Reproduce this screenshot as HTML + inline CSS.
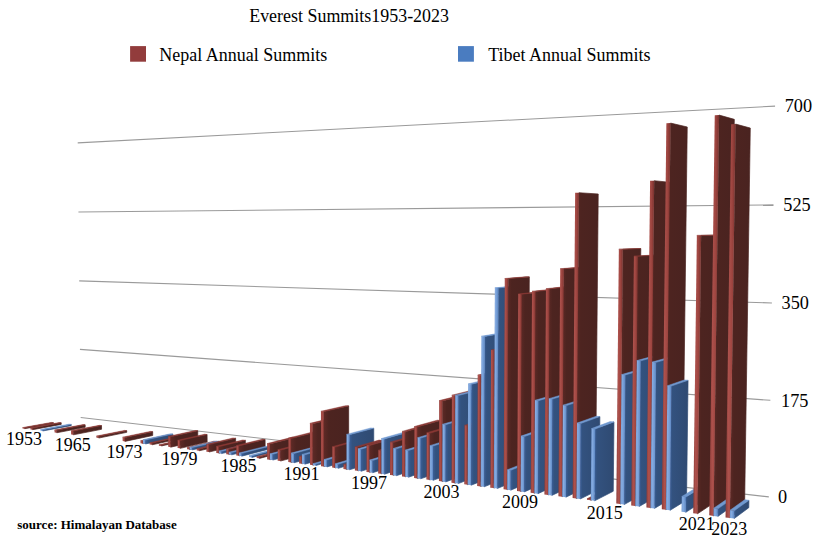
<!DOCTYPE html>
<html><head><meta charset="utf-8"><style>
html,body{margin:0;padding:0;background:#fff;}
body{width:816px;height:543px;overflow:hidden;position:relative;}
svg{position:absolute;left:0;top:0;}
text{font-family:"Liberation Serif",serif;fill:#000;}
</style></head><body>
<svg width="816" height="543" viewBox="0 0 816 543">
<defs>
<linearGradient id="gr" x1="0" x2="1" y1="0" y2="0">
<stop offset="0" stop-color="#8c3c38"/><stop offset="0.3" stop-color="#ad514c"/><stop offset="0.65" stop-color="#9e4540"/><stop offset="1" stop-color="#78312d"/>
</linearGradient>
<linearGradient id="gb" x1="0" x2="1" y1="0" y2="0">
<stop offset="0" stop-color="#6893cc"/><stop offset="0.3" stop-color="#88ade2"/><stop offset="0.7" stop-color="#6f99d2"/><stop offset="1" stop-color="#5880bc"/>
</linearGradient>
<linearGradient id="gsr" x1="0" x2="1" y1="0" y2="0">
<stop offset="0" stop-color="#5e2a26"/><stop offset="0.2" stop-color="#4d2420"/><stop offset="1" stop-color="#4a2320"/>
</linearGradient>
<linearGradient id="gsb" x1="0" x2="1" y1="0" y2="0">
<stop offset="0" stop-color="#3a5f98"/><stop offset="0.12" stop-color="#33527f"/><stop offset="1" stop-color="#2f4a72"/>
</linearGradient>
</defs>
<rect width="816" height="543" fill="#fff"/>
<text x="249.2" y="22.1" font-size="17.95">Everest Summits1953-2023</text>
<rect x="130.1" y="46.1" width="15.9" height="15.6" fill="#923c3c"/>
<text x="159.3" y="60.7" font-size="18">Nepal Annual Summits</text>
<rect x="458" y="46.1" width="15.9" height="15.6" fill="#4a7cc0"/>
<text x="488.2" y="60.7" font-size="18">Tibet Annual Summits</text>
<line x1="80.69" y1="417.51" x2="768.82" y2="496.92" stroke="#9a9a9a" stroke-width="1.1"/>
<line x1="79.96" y1="349.39" x2="770.37" y2="400.32" stroke="#9a9a9a" stroke-width="1.1"/>
<line x1="79.21" y1="280.91" x2="771.92" y2="302.99" stroke="#9a9a9a" stroke-width="1.1"/>
<line x1="78.47" y1="212.07" x2="773.49" y2="204.92" stroke="#9a9a9a" stroke-width="1.1"/>
<line x1="77.72" y1="142.86" x2="775.07" y2="106.10" stroke="#9a9a9a" stroke-width="1.1"/>
<polygon points="24.69,428.69 53.38,423.47 53.37,422.67 24.68,427.86" fill="url(#gsr)" stroke="url(#gsr)" stroke-width="0.7" stroke-linejoin="round"/>
<polygon points="22.60,427.60 24.68,427.86 53.37,422.67 51.31,422.42" fill="#8a3834" stroke="#8a3834" stroke-width="0.5" stroke-linejoin="round"/>
<polygon points="22.61,428.42 24.69,428.69 24.68,427.86 22.60,427.60" fill="url(#gr)"/>
<polygon points="32.59,429.69 61.21,424.42 61.20,422.81 32.57,428.03" fill="url(#gsr)" stroke="url(#gsr)" stroke-width="0.7" stroke-linejoin="round"/>
<polygon points="30.47,427.77 32.57,428.03 61.20,422.81 59.12,422.56" fill="#8a3834" stroke="#8a3834" stroke-width="0.5" stroke-linejoin="round"/>
<polygon points="30.49,429.42 32.59,429.69 32.57,428.03 30.47,427.77" fill="url(#gr)"/>
<polygon points="42.69,430.97 71.23,425.63 71.21,424.42 42.68,429.72" fill="url(#gsb)" stroke="url(#gsb)" stroke-width="0.7" stroke-linejoin="round"/>
<polygon points="40.55,429.45 42.68,429.72 71.21,424.42 69.11,424.16" fill="#7099d0" stroke="#7099d0" stroke-width="0.5" stroke-linejoin="round"/>
<polygon points="40.57,430.70 42.69,430.97 42.68,429.72 40.55,429.45" fill="url(#gb)"/>
<polygon points="56.77,432.75 85.18,427.32 85.15,424.87 56.74,430.23" fill="url(#gsr)" stroke="url(#gsr)" stroke-width="0.7" stroke-linejoin="round"/>
<polygon points="54.58,429.96 56.74,430.23 85.15,424.87 83.01,424.61" fill="#8a3834" stroke="#8a3834" stroke-width="0.5" stroke-linejoin="round"/>
<polygon points="54.61,432.47 56.77,432.75 56.74,430.23 54.58,429.96" fill="url(#gr)"/>
<polygon points="73.31,434.84 101.56,429.30 101.52,425.59 73.27,431.03" fill="url(#gsr)" stroke="url(#gsr)" stroke-width="0.7" stroke-linejoin="round"/>
<polygon points="71.06,430.75 73.27,431.03 101.52,425.59 99.34,425.33" fill="#8a3834" stroke="#8a3834" stroke-width="0.5" stroke-linejoin="round"/>
<polygon points="71.11,434.56 73.31,434.84 73.27,431.03 71.06,430.75" fill="url(#gr)"/>
<polygon points="98.76,438.06 126.74,432.35 126.73,430.68 98.75,436.34" fill="url(#gsr)" stroke="url(#gsr)" stroke-width="0.7" stroke-linejoin="round"/>
<polygon points="96.47,436.06 98.75,436.34 126.73,430.68 124.48,430.41" fill="#8a3834" stroke="#8a3834" stroke-width="0.5" stroke-linejoin="round"/>
<polygon points="96.49,437.78 98.76,438.06 98.75,436.34 96.47,436.06" fill="url(#gr)"/>
<polygon points="125.03,441.39 152.71,435.50 152.68,431.67 124.99,437.45" fill="url(#gsr)" stroke="url(#gsr)" stroke-width="0.7" stroke-linejoin="round"/>
<polygon points="122.64,437.16 124.99,437.45 152.68,431.67 150.36,431.40" fill="#8a3834" stroke="#8a3834" stroke-width="0.5" stroke-linejoin="round"/>
<polygon points="122.68,441.09 125.03,441.39 124.99,437.45 122.64,437.16" fill="url(#gr)"/>
<polygon points="143.00,443.66 170.47,437.65 170.45,435.07 142.98,441.01" fill="url(#gsr)" stroke="url(#gsr)" stroke-width="0.7" stroke-linejoin="round"/>
<polygon points="140.58,440.71 142.98,441.01 170.45,435.07 168.08,434.79" fill="#8a3834" stroke="#8a3834" stroke-width="0.5" stroke-linejoin="round"/>
<polygon points="140.60,443.36 143.00,443.66 142.98,441.01 140.58,440.71" fill="url(#gr)"/>
<polygon points="145.41,443.97 172.85,437.93 172.82,434.06 145.37,439.99" fill="url(#gsb)" stroke="url(#gsb)" stroke-width="0.7" stroke-linejoin="round"/>
<polygon points="142.97,439.69 145.37,439.99 172.82,434.06 170.44,433.78" fill="#7099d0" stroke="#7099d0" stroke-width="0.5" stroke-linejoin="round"/>
<polygon points="143.00,443.66 145.41,443.97 145.37,439.99 142.97,439.69" fill="url(#gb)"/>
<polygon points="152.14,444.82 179.49,438.74 179.48,437.01 152.12,443.04" fill="url(#gsr)" stroke="url(#gsr)" stroke-width="0.7" stroke-linejoin="round"/>
<polygon points="149.70,442.74 152.12,443.04 179.48,437.01 177.09,436.72" fill="#8a3834" stroke="#8a3834" stroke-width="0.5" stroke-linejoin="round"/>
<polygon points="149.71,444.51 152.14,444.82 152.12,443.04 149.70,442.74" fill="url(#gr)"/>
<polygon points="161.37,445.99 188.61,439.84 188.60,438.97 161.36,445.10" fill="url(#gsr)" stroke="url(#gsr)" stroke-width="0.7" stroke-linejoin="round"/>
<polygon points="158.91,444.79 161.36,445.10 188.60,438.97 186.18,438.68" fill="#8a3834" stroke="#8a3834" stroke-width="0.5" stroke-linejoin="round"/>
<polygon points="158.92,445.68 161.37,445.99 161.36,445.10 158.91,444.79" fill="url(#gr)"/>
<polygon points="170.70,447.17 197.82,440.96 197.75,430.79 170.62,436.71" fill="url(#gsr)" stroke="url(#gsr)" stroke-width="0.7" stroke-linejoin="round"/>
<polygon points="168.15,436.41 170.62,436.71 197.75,430.79 195.31,430.51" fill="#8a3834" stroke="#8a3834" stroke-width="0.5" stroke-linejoin="round"/>
<polygon points="168.22,446.86 170.70,447.17 170.62,436.71 168.15,436.41" fill="url(#gr)"/>
<polygon points="180.14,448.36 207.13,442.08 207.08,434.50 180.08,440.56" fill="url(#gsr)" stroke="url(#gsr)" stroke-width="0.7" stroke-linejoin="round"/>
<polygon points="177.58,440.25 180.08,440.56 207.08,434.50 204.61,434.21" fill="#8a3834" stroke="#8a3834" stroke-width="0.5" stroke-linejoin="round"/>
<polygon points="177.63,448.05 180.14,448.36 180.08,440.56 177.58,440.25" fill="url(#gr)"/>
<polygon points="189.67,449.57 216.54,443.22 216.53,441.46 189.66,447.76" fill="url(#gsr)" stroke="url(#gsr)" stroke-width="0.7" stroke-linejoin="round"/>
<polygon points="187.13,447.44 189.66,447.76 216.53,441.46 214.03,441.16" fill="#8a3834" stroke="#8a3834" stroke-width="0.5" stroke-linejoin="round"/>
<polygon points="187.14,449.25 189.67,449.57 189.66,447.76 187.13,447.44" fill="url(#gr)"/>
<polygon points="192.21,449.89 219.04,443.53 219.03,441.32 192.20,447.62" fill="url(#gsb)" stroke="url(#gsb)" stroke-width="0.7" stroke-linejoin="round"/>
<polygon points="189.66,447.30 192.20,447.62 219.03,441.32 216.52,441.02" fill="#7099d0" stroke="#7099d0" stroke-width="0.5" stroke-linejoin="round"/>
<polygon points="189.67,449.57 192.21,449.89 192.20,447.62 189.66,447.30" fill="url(#gb)"/>
<polygon points="199.32,450.79 226.04,444.37 226.04,442.60 199.31,448.97" fill="url(#gsr)" stroke="url(#gsr)" stroke-width="0.7" stroke-linejoin="round"/>
<polygon points="196.75,448.65 199.31,448.97 226.04,442.60 223.51,442.30" fill="#8a3834" stroke="#8a3834" stroke-width="0.5" stroke-linejoin="round"/>
<polygon points="196.76,450.47 199.32,450.79 199.31,448.97 196.75,448.65" fill="url(#gr)"/>
<polygon points="209.07,452.03 235.66,445.54 235.62,438.28 209.03,444.55" fill="url(#gsr)" stroke="url(#gsr)" stroke-width="0.7" stroke-linejoin="round"/>
<polygon points="206.44,444.23 209.03,444.55 235.62,438.28 233.07,437.98" fill="#8a3834" stroke="#8a3834" stroke-width="0.5" stroke-linejoin="round"/>
<polygon points="206.48,451.70 209.07,452.03 209.03,444.55 206.44,444.23" fill="url(#gr)"/>
<polygon points="218.93,453.27 245.37,446.72 245.35,440.31 218.89,446.68" fill="url(#gsr)" stroke="url(#gsr)" stroke-width="0.7" stroke-linejoin="round"/>
<polygon points="216.28,446.36 218.89,446.68 245.35,440.31 242.77,440.01" fill="#8a3834" stroke="#8a3834" stroke-width="0.5" stroke-linejoin="round"/>
<polygon points="216.31,452.94 218.93,453.27 218.89,446.68 216.28,446.36" fill="url(#gr)"/>
<polygon points="221.56,453.61 247.96,447.03 247.95,444.79 221.54,451.30" fill="url(#gsb)" stroke="url(#gsb)" stroke-width="0.7" stroke-linejoin="round"/>
<polygon points="218.92,450.97 221.54,451.30 247.95,444.79 245.36,444.48" fill="#7099d0" stroke="#7099d0" stroke-width="0.5" stroke-linejoin="round"/>
<polygon points="218.93,453.27 221.56,453.61 221.54,451.30 218.92,450.97" fill="url(#gb)"/>
<polygon points="228.90,454.54 255.20,447.90 255.18,442.82 228.88,449.30" fill="url(#gsr)" stroke="url(#gsr)" stroke-width="0.7" stroke-linejoin="round"/>
<polygon points="226.23,448.97 228.88,449.30 255.18,442.82 252.57,442.51" fill="#8a3834" stroke="#8a3834" stroke-width="0.5" stroke-linejoin="round"/>
<polygon points="226.26,454.20 228.90,454.54 228.88,449.30 226.23,448.97" fill="url(#gr)"/>
<polygon points="231.56,454.87 257.81,448.22 257.80,445.97 231.54,452.55" fill="url(#gsb)" stroke="url(#gsb)" stroke-width="0.7" stroke-linejoin="round"/>
<polygon points="228.89,452.22 231.54,452.55 257.80,445.97 255.19,445.65" fill="#7099d0" stroke="#7099d0" stroke-width="0.5" stroke-linejoin="round"/>
<polygon points="228.90,454.54 231.56,454.87 231.54,452.55 228.89,452.22" fill="url(#gb)"/>
<polygon points="238.99,455.81 265.13,449.11 265.09,439.46 238.94,445.88" fill="url(#gsr)" stroke="url(#gsr)" stroke-width="0.7" stroke-linejoin="round"/>
<polygon points="236.26,445.55 238.94,445.88 265.09,439.46 262.46,439.16" fill="#8a3834" stroke="#8a3834" stroke-width="0.5" stroke-linejoin="round"/>
<polygon points="236.31,455.47 238.99,455.81 238.94,445.88 236.26,445.55" fill="url(#gr)"/>
<polygon points="241.67,456.15 267.77,449.43 267.76,446.71 241.66,453.35" fill="url(#gsb)" stroke="url(#gsb)" stroke-width="0.7" stroke-linejoin="round"/>
<polygon points="238.97,453.02 241.66,453.35 267.76,446.71 265.12,446.39" fill="#7099d0" stroke="#7099d0" stroke-width="0.5" stroke-linejoin="round"/>
<polygon points="238.99,455.81 241.67,456.15 241.66,453.35 238.97,453.02" fill="url(#gb)"/>
<polygon points="251.90,457.45 277.84,450.65 277.83,449.05 251.89,455.80" fill="url(#gsb)" stroke="url(#gsb)" stroke-width="0.7" stroke-linejoin="round"/>
<polygon points="249.18,455.46 251.89,455.80 277.83,449.05 275.16,448.73" fill="#7099d0" stroke="#7099d0" stroke-width="0.5" stroke-linejoin="round"/>
<polygon points="249.19,457.10 251.90,457.45 251.89,455.80 249.18,455.46" fill="url(#gb)"/>
<polygon points="259.50,458.41 285.32,451.55 285.32,450.18 259.50,457.00" fill="url(#gsr)" stroke="url(#gsr)" stroke-width="0.7" stroke-linejoin="round"/>
<polygon points="256.76,456.65 259.50,457.00 285.32,450.18 282.62,449.85" fill="#8a3834" stroke="#8a3834" stroke-width="0.5" stroke-linejoin="round"/>
<polygon points="256.76,458.06 259.50,458.41 259.50,457.00 256.76,456.65" fill="url(#gr)"/>
<polygon points="269.94,459.73 295.58,452.79 295.55,437.41 269.88,443.88" fill="url(#gsr)" stroke="url(#gsr)" stroke-width="0.7" stroke-linejoin="round"/>
<polygon points="267.11,443.55 269.88,443.88 295.55,437.41 292.82,437.11" fill="#8a3834" stroke="#8a3834" stroke-width="0.5" stroke-linejoin="round"/>
<polygon points="267.17,459.38 269.94,459.73 269.88,443.88 267.11,443.55" fill="url(#gr)"/>
<polygon points="272.71,460.08 298.32,453.13 298.30,447.41 272.69,454.19" fill="url(#gsb)" stroke="url(#gsb)" stroke-width="0.7" stroke-linejoin="round"/>
<polygon points="269.92,453.85 272.69,454.19 298.30,447.41 295.57,447.09" fill="#7099d0" stroke="#7099d0" stroke-width="0.5" stroke-linejoin="round"/>
<polygon points="269.94,459.73 272.71,460.08 272.69,454.19 269.92,453.85" fill="url(#gb)"/>
<polygon points="280.49,461.07 305.97,454.05 305.94,443.45 280.46,450.14" fill="url(#gsr)" stroke="url(#gsr)" stroke-width="0.7" stroke-linejoin="round"/>
<polygon points="277.66,449.80 280.46,450.14 305.94,443.45 303.19,443.13" fill="#8a3834" stroke="#8a3834" stroke-width="0.5" stroke-linejoin="round"/>
<polygon points="277.69,460.71 280.49,461.07 280.46,450.14 277.66,449.80" fill="url(#gr)"/>
<polygon points="291.17,462.42 316.46,455.32 316.42,432.08 291.11,438.46" fill="url(#gsr)" stroke="url(#gsr)" stroke-width="0.7" stroke-linejoin="round"/>
<polygon points="288.27,438.13 291.11,438.46 316.42,432.08 313.64,431.78" fill="#8a3834" stroke="#8a3834" stroke-width="0.5" stroke-linejoin="round"/>
<polygon points="288.34,462.06 291.17,462.42 291.11,438.46 288.27,438.13" fill="url(#gr)"/>
<polygon points="294.01,462.78 319.26,455.66 319.24,446.62 293.99,453.45" fill="url(#gsb)" stroke="url(#gsb)" stroke-width="0.7" stroke-linejoin="round"/>
<polygon points="291.15,453.11 293.99,453.45 319.24,446.62 316.45,446.29" fill="#7099d0" stroke="#7099d0" stroke-width="0.5" stroke-linejoin="round"/>
<polygon points="291.17,462.42 294.01,462.78 293.99,453.45 291.15,453.11" fill="url(#gb)"/>
<polygon points="301.97,463.79 327.08,456.61 327.07,449.87 301.96,456.84" fill="url(#gsr)" stroke="url(#gsr)" stroke-width="0.7" stroke-linejoin="round"/>
<polygon points="299.09,456.48 301.96,456.84 327.07,449.87 324.25,449.54" fill="#8a3834" stroke="#8a3834" stroke-width="0.5" stroke-linejoin="round"/>
<polygon points="299.11,463.42 301.97,463.79 301.96,456.84 299.09,456.48" fill="url(#gr)"/>
<polygon points="304.85,464.15 329.91,456.95 329.89,447.85 304.83,454.77" fill="url(#gsb)" stroke="url(#gsb)" stroke-width="0.7" stroke-linejoin="round"/>
<polygon points="301.95,454.42 304.83,454.77 329.89,447.85 327.07,447.53" fill="#7099d0" stroke="#7099d0" stroke-width="0.5" stroke-linejoin="round"/>
<polygon points="301.97,463.79 304.85,464.15 304.83,454.77 301.95,454.42" fill="url(#gb)"/>
<polygon points="312.90,465.17 337.82,457.91 337.78,417.66 312.83,423.65" fill="url(#gsr)" stroke="url(#gsr)" stroke-width="0.7" stroke-linejoin="round"/>
<polygon points="309.92,423.35 312.83,423.65 337.78,417.66 334.93,417.37" fill="#8a3834" stroke="#8a3834" stroke-width="0.5" stroke-linejoin="round"/>
<polygon points="310.00,464.80 312.90,465.17 312.83,423.65 309.92,423.35" fill="url(#gr)"/>
<polygon points="315.81,465.54 340.68,458.25 340.67,456.84 315.81,464.08" fill="url(#gsb)" stroke="url(#gsb)" stroke-width="0.7" stroke-linejoin="round"/>
<polygon points="312.90,463.71 315.81,464.08 340.67,456.84 337.82,456.50" fill="#7099d0" stroke="#7099d0" stroke-width="0.5" stroke-linejoin="round"/>
<polygon points="312.90,465.17 315.81,465.54 315.81,464.08 312.90,463.71" fill="url(#gb)"/>
<polygon points="323.96,466.57 348.68,459.22 348.66,405.92 323.89,411.57" fill="url(#gsr)" stroke="url(#gsr)" stroke-width="0.7" stroke-linejoin="round"/>
<polygon points="320.95,411.29 323.89,411.57 348.66,405.92 345.77,405.65" fill="#8a3834" stroke="#8a3834" stroke-width="0.5" stroke-linejoin="round"/>
<polygon points="321.03,466.20 323.96,466.57 323.89,411.57 320.95,411.29" fill="url(#gr)"/>
<polygon points="326.91,466.94 351.57,459.57 351.57,452.75 326.90,459.90" fill="url(#gsb)" stroke="url(#gsb)" stroke-width="0.7" stroke-linejoin="round"/>
<polygon points="323.95,459.54 326.90,459.90 351.57,452.75 348.68,452.41" fill="#7099d0" stroke="#7099d0" stroke-width="0.5" stroke-linejoin="round"/>
<polygon points="323.96,466.57 326.91,466.94 326.90,459.90 323.95,459.54" fill="url(#gb)"/>
<polygon points="335.16,467.99 359.67,460.55 359.67,440.31 335.14,447.10" fill="url(#gsr)" stroke="url(#gsr)" stroke-width="0.7" stroke-linejoin="round"/>
<polygon points="332.16,446.75 335.14,447.10 359.67,440.31 356.75,439.99" fill="#8a3834" stroke="#8a3834" stroke-width="0.5" stroke-linejoin="round"/>
<polygon points="332.19,467.61 335.16,467.99 335.14,447.10 332.16,446.75" fill="url(#gr)"/>
<polygon points="338.14,468.36 362.59,460.91 362.59,456.85 338.13,464.18" fill="url(#gsb)" stroke="url(#gsb)" stroke-width="0.7" stroke-linejoin="round"/>
<polygon points="335.15,463.81 338.13,464.18 362.59,456.85 359.67,456.51" fill="#7099d0" stroke="#7099d0" stroke-width="0.5" stroke-linejoin="round"/>
<polygon points="335.16,467.99 338.14,468.36 338.13,464.18 335.15,463.81" fill="url(#gb)"/>
<polygon points="346.48,469.42 370.78,461.90 370.78,457.40 346.48,464.78" fill="url(#gsr)" stroke="url(#gsr)" stroke-width="0.7" stroke-linejoin="round"/>
<polygon points="343.47,464.40 346.48,464.78 370.78,457.40 367.83,457.05" fill="#8a3834" stroke="#8a3834" stroke-width="0.5" stroke-linejoin="round"/>
<polygon points="343.48,469.04 346.48,469.42 346.48,464.78 343.47,464.40" fill="url(#gr)"/>
<polygon points="349.50,469.80 373.74,462.26 373.76,428.27 349.48,434.72" fill="url(#gsb)" stroke="url(#gsb)" stroke-width="0.7" stroke-linejoin="round"/>
<polygon points="346.46,434.39 349.48,434.72 373.76,428.27 370.79,427.96" fill="#7099d0" stroke="#7099d0" stroke-width="0.5" stroke-linejoin="round"/>
<polygon points="346.48,469.42 349.50,469.80 349.48,434.72 346.46,434.39" fill="url(#gb)"/>
<polygon points="357.94,470.87 382.02,463.26 382.04,440.42 357.94,447.29" fill="url(#gsr)" stroke="url(#gsr)" stroke-width="0.7" stroke-linejoin="round"/>
<polygon points="354.90,446.94 357.94,447.29 382.04,440.42 379.06,440.09" fill="#8a3834" stroke="#8a3834" stroke-width="0.5" stroke-linejoin="round"/>
<polygon points="354.90,470.49 357.94,470.87 357.94,447.29 354.90,446.94" fill="url(#gr)"/>
<polygon points="361.00,471.26 385.02,463.62 385.04,442.19 361.00,449.14" fill="url(#gsb)" stroke="url(#gsb)" stroke-width="0.7" stroke-linejoin="round"/>
<polygon points="357.94,448.79 361.00,449.14 385.04,442.19 382.04,441.86" fill="#7099d0" stroke="#7099d0" stroke-width="0.5" stroke-linejoin="round"/>
<polygon points="357.94,470.87 361.00,471.26 361.00,449.14 357.94,448.79" fill="url(#gb)"/>
<polygon points="369.55,472.34 393.40,464.64 393.43,438.70 369.56,445.56" fill="url(#gsr)" stroke="url(#gsr)" stroke-width="0.7" stroke-linejoin="round"/>
<polygon points="366.47,445.22 369.56,445.56 393.43,438.70 390.41,438.38" fill="#8a3834" stroke="#8a3834" stroke-width="0.5" stroke-linejoin="round"/>
<polygon points="366.47,471.95 369.55,472.34 369.56,445.56 366.47,445.22" fill="url(#gr)"/>
<polygon points="372.64,472.73 396.43,465.00 396.45,453.12 372.64,460.46" fill="url(#gsb)" stroke="url(#gsb)" stroke-width="0.7" stroke-linejoin="round"/>
<polygon points="369.55,460.08 372.64,460.46 396.45,453.12 393.42,452.77" fill="#7099d0" stroke="#7099d0" stroke-width="0.5" stroke-linejoin="round"/>
<polygon points="369.55,472.34 372.64,472.73 372.64,460.46 369.55,460.08" fill="url(#gb)"/>
<polygon points="381.29,473.83 404.91,466.03 404.95,443.60 381.31,450.67" fill="url(#gsr)" stroke="url(#gsr)" stroke-width="0.7" stroke-linejoin="round"/>
<polygon points="378.19,450.31 381.31,450.67 404.95,443.60 401.89,443.27" fill="#8a3834" stroke="#8a3834" stroke-width="0.5" stroke-linejoin="round"/>
<polygon points="378.17,473.43 381.29,473.83 381.31,450.67 378.19,450.31" fill="url(#gr)"/>
<polygon points="384.42,474.22 407.98,466.40 408.04,432.20 384.45,438.91" fill="url(#gsb)" stroke="url(#gsb)" stroke-width="0.7" stroke-linejoin="round"/>
<polygon points="381.32,438.57 384.45,438.91 408.04,432.20 404.97,431.89" fill="#7099d0" stroke="#7099d0" stroke-width="0.5" stroke-linejoin="round"/>
<polygon points="381.29,473.83 384.42,474.22 384.45,438.91 381.32,438.57" fill="url(#gb)"/>
<polygon points="393.18,475.33 416.56,467.44 416.63,435.65 393.22,442.50" fill="url(#gsr)" stroke="url(#gsr)" stroke-width="0.7" stroke-linejoin="round"/>
<polygon points="390.06,442.15 393.22,442.50 416.63,435.65 413.53,435.32" fill="#8a3834" stroke="#8a3834" stroke-width="0.5" stroke-linejoin="round"/>
<polygon points="390.02,474.93 393.18,475.33 393.22,442.50 390.06,442.15" fill="url(#gr)"/>
<polygon points="396.34,475.73 419.66,467.82 419.72,441.78 396.38,448.84" fill="url(#gsb)" stroke="url(#gsb)" stroke-width="0.7" stroke-linejoin="round"/>
<polygon points="393.21,448.48 396.38,448.84 419.72,441.78 416.62,441.44" fill="#7099d0" stroke="#7099d0" stroke-width="0.5" stroke-linejoin="round"/>
<polygon points="393.18,475.33 396.34,475.73 396.38,448.84 393.21,448.48" fill="url(#gb)"/>
<polygon points="405.21,476.85 428.35,468.87 428.46,425.17 405.29,431.71" fill="url(#gsr)" stroke="url(#gsr)" stroke-width="0.7" stroke-linejoin="round"/>
<polygon points="402.09,431.38 405.29,431.71 428.46,425.17 425.33,424.86" fill="#8a3834" stroke="#8a3834" stroke-width="0.5" stroke-linejoin="round"/>
<polygon points="402.02,476.45 405.21,476.85 405.29,431.71 402.09,431.38" fill="url(#gr)"/>
<polygon points="408.42,477.26 431.48,469.25 431.56,443.30 408.47,450.46" fill="url(#gsb)" stroke="url(#gsb)" stroke-width="0.7" stroke-linejoin="round"/>
<polygon points="405.26,450.10 408.47,450.46 431.56,443.30 428.42,442.96" fill="#7099d0" stroke="#7099d0" stroke-width="0.5" stroke-linejoin="round"/>
<polygon points="405.21,476.85 408.42,477.26 408.47,450.46 405.26,450.10" fill="url(#gb)"/>
<polygon points="417.40,478.40 440.27,470.31 440.43,420.48 417.51,426.91" fill="url(#gsr)" stroke="url(#gsr)" stroke-width="0.7" stroke-linejoin="round"/>
<polygon points="414.27,426.59 417.51,426.91 440.43,420.48 437.26,420.18" fill="#8a3834" stroke="#8a3834" stroke-width="0.5" stroke-linejoin="round"/>
<polygon points="414.16,477.99 417.40,478.40 417.51,426.91 414.27,426.59" fill="url(#gr)"/>
<polygon points="420.64,478.81 443.45,470.70 443.58,431.25 420.74,438.05" fill="url(#gsb)" stroke="url(#gsb)" stroke-width="0.7" stroke-linejoin="round"/>
<polygon points="417.49,437.71 420.74,438.05 443.58,431.25 440.40,430.93" fill="#7099d0" stroke="#7099d0" stroke-width="0.5" stroke-linejoin="round"/>
<polygon points="417.40,478.40 420.64,478.81 420.74,438.05 417.49,437.71" fill="url(#gb)"/>
<polygon points="429.73,479.96 452.35,471.77 452.51,426.50 429.86,433.17" fill="url(#gsr)" stroke="url(#gsr)" stroke-width="0.7" stroke-linejoin="round"/>
<polygon points="426.58,432.83 429.86,433.17 452.51,426.50 449.30,426.19" fill="#8a3834" stroke="#8a3834" stroke-width="0.5" stroke-linejoin="round"/>
<polygon points="426.46,479.54 429.73,479.96 429.86,433.17 426.58,432.83" fill="url(#gr)"/>
<polygon points="433.02,480.37 455.56,472.16 455.69,438.90 433.12,445.99" fill="url(#gsb)" stroke="url(#gsb)" stroke-width="0.7" stroke-linejoin="round"/>
<polygon points="429.83,445.63 433.12,445.99 455.69,438.90 452.47,438.56" fill="#7099d0" stroke="#7099d0" stroke-width="0.5" stroke-linejoin="round"/>
<polygon points="429.73,479.96 433.02,480.37 433.12,445.99 429.83,445.63" fill="url(#gb)"/>
<polygon points="442.23,481.54 464.57,473.25 464.89,395.23 442.49,400.89" fill="url(#gsr)" stroke="url(#gsr)" stroke-width="0.7" stroke-linejoin="round"/>
<polygon points="439.16,400.60 442.49,400.89 464.89,395.23 461.64,394.96" fill="#8a3834" stroke="#8a3834" stroke-width="0.5" stroke-linejoin="round"/>
<polygon points="438.91,481.12 442.23,481.54 442.49,400.89 439.16,400.60" fill="url(#gr)"/>
<polygon points="445.55,481.96 467.82,473.65 468.06,418.19 445.75,424.63" fill="url(#gsb)" stroke="url(#gsb)" stroke-width="0.7" stroke-linejoin="round"/>
<polygon points="442.41,424.31 445.75,424.63 468.06,418.19 464.80,417.88" fill="#7099d0" stroke="#7099d0" stroke-width="0.5" stroke-linejoin="round"/>
<polygon points="442.23,481.54 445.55,481.96 445.75,424.63 442.41,424.31" fill="url(#gb)"/>
<polygon points="454.88,483.14 476.94,474.75 477.33,389.96 455.20,395.47" fill="url(#gsr)" stroke="url(#gsr)" stroke-width="0.7" stroke-linejoin="round"/>
<polygon points="451.83,395.19 455.20,395.47 477.33,389.96 474.03,389.69" fill="#8a3834" stroke="#8a3834" stroke-width="0.5" stroke-linejoin="round"/>
<polygon points="451.52,482.72 454.88,483.14 455.20,395.47 451.83,395.19" fill="url(#gr)"/>
<polygon points="458.25,483.57 480.23,475.15 480.64,389.91 458.59,395.43" fill="url(#gsb)" stroke="url(#gsb)" stroke-width="0.7" stroke-linejoin="round"/>
<polygon points="455.21,395.15 458.59,395.43 480.64,389.91 477.33,389.65" fill="#7099d0" stroke="#7099d0" stroke-width="0.5" stroke-linejoin="round"/>
<polygon points="454.88,483.14 458.25,483.57 458.59,395.43 455.21,395.15" fill="url(#gb)"/>
<polygon points="467.69,484.76 489.46,476.27 489.75,419.10 467.94,425.64" fill="url(#gsr)" stroke="url(#gsr)" stroke-width="0.7" stroke-linejoin="round"/>
<polygon points="464.53,425.31 467.94,425.64 489.75,419.10 486.42,418.79" fill="#8a3834" stroke="#8a3834" stroke-width="0.5" stroke-linejoin="round"/>
<polygon points="464.29,484.33 467.69,484.76 467.94,425.64 464.53,425.31" fill="url(#gr)"/>
<polygon points="471.10,485.20 492.80,476.67 493.31,378.97 471.54,384.15" fill="url(#gsb)" stroke="url(#gsb)" stroke-width="0.7" stroke-linejoin="round"/>
<polygon points="468.12,383.89 471.54,384.15 493.31,378.97 489.96,378.72" fill="#7099d0" stroke="#7099d0" stroke-width="0.5" stroke-linejoin="round"/>
<polygon points="467.69,484.76 471.10,485.20 471.54,384.15 468.12,383.89" fill="url(#gb)"/>
<polygon points="480.67,486.41 502.14,477.80 502.74,370.44 481.19,375.35" fill="url(#gsr)" stroke="url(#gsr)" stroke-width="0.7" stroke-linejoin="round"/>
<polygon points="477.73,375.10 481.19,375.35 502.74,370.44 499.36,370.20" fill="#8a3834" stroke="#8a3834" stroke-width="0.5" stroke-linejoin="round"/>
<polygon points="477.22,485.97 480.67,486.41 481.19,375.35 477.73,375.10" fill="url(#gr)"/>
<polygon points="484.12,486.84 505.52,478.21 506.35,332.77 484.86,336.39" fill="url(#gsb)" stroke="url(#gsb)" stroke-width="0.7" stroke-linejoin="round"/>
<polygon points="481.38,336.21 484.86,336.39 506.35,332.77 502.95,332.60" fill="#7099d0" stroke="#7099d0" stroke-width="0.5" stroke-linejoin="round"/>
<polygon points="480.67,486.41 484.12,486.84 484.86,336.39 481.38,336.21" fill="url(#gb)"/>
<polygon points="493.81,488.07 514.98,479.36 515.79,346.10 494.54,350.19" fill="url(#gsr)" stroke="url(#gsr)" stroke-width="0.7" stroke-linejoin="round"/>
<polygon points="491.02,349.99 494.54,350.19 515.79,346.10 512.36,345.90" fill="#8a3834" stroke="#8a3834" stroke-width="0.5" stroke-linejoin="round"/>
<polygon points="490.32,487.63 493.81,488.07 494.54,350.19 491.02,349.99" fill="url(#gr)"/>
<polygon points="497.31,488.51 518.40,479.77 519.60,285.93 498.39,287.93" fill="url(#gsb)" stroke="url(#gsb)" stroke-width="0.7" stroke-linejoin="round"/>
<polygon points="494.86,287.83 498.39,287.93 519.60,285.93 516.15,285.84" fill="#7099d0" stroke="#7099d0" stroke-width="0.5" stroke-linejoin="round"/>
<polygon points="493.81,488.07 497.31,488.51 498.39,287.93 494.86,287.83" fill="url(#gb)"/>
<polygon points="507.13,489.76 527.97,480.93 529.32,276.90 508.35,278.59" fill="url(#gsr)" stroke="url(#gsr)" stroke-width="0.7" stroke-linejoin="round"/>
<polygon points="504.78,278.50 508.35,278.59 529.32,276.90 525.84,276.81" fill="#8a3834" stroke="#8a3834" stroke-width="0.5" stroke-linejoin="round"/>
<polygon points="503.59,489.31 507.13,489.76 508.35,278.59 504.78,278.50" fill="url(#gr)"/>
<polygon points="510.67,490.20 531.44,481.35 531.57,462.06 510.79,470.24" fill="url(#gsb)" stroke="url(#gsb)" stroke-width="0.7" stroke-linejoin="round"/>
<polygon points="507.24,469.82 510.79,470.24 531.57,462.06 528.10,461.67" fill="#7099d0" stroke="#7099d0" stroke-width="0.5" stroke-linejoin="round"/>
<polygon points="507.13,489.76 510.67,490.20 510.79,470.24 507.24,469.82" fill="url(#gb)"/>
<polygon points="520.62,491.46 541.14,482.53 542.49,291.90 521.86,294.14" fill="url(#gsr)" stroke="url(#gsr)" stroke-width="0.7" stroke-linejoin="round"/>
<polygon points="518.25,294.03 521.86,294.14 542.49,291.90 538.97,291.79" fill="#8a3834" stroke="#8a3834" stroke-width="0.5" stroke-linejoin="round"/>
<polygon points="517.03,491.01 520.62,491.46 521.86,294.14 518.25,294.03" fill="url(#gr)"/>
<polygon points="524.21,491.92 544.64,482.95 545.03,429.38 524.57,436.47" fill="url(#gsb)" stroke="url(#gsb)" stroke-width="0.7" stroke-linejoin="round"/>
<polygon points="520.96,436.11 524.57,436.47 545.03,429.38 541.52,429.04" fill="#7099d0" stroke="#7099d0" stroke-width="0.5" stroke-linejoin="round"/>
<polygon points="520.62,491.46 524.21,491.92 524.57,436.47 520.96,436.11" fill="url(#gb)"/>
<polygon points="534.28,493.19 554.47,484.14 555.95,289.27 535.66,291.43" fill="url(#gsr)" stroke="url(#gsr)" stroke-width="0.7" stroke-linejoin="round"/>
<polygon points="532.00,291.32 535.66,291.43 555.95,289.27 552.38,289.17" fill="#8a3834" stroke="#8a3834" stroke-width="0.5" stroke-linejoin="round"/>
<polygon points="530.65,492.73 534.28,493.19 535.66,291.43 532.00,291.32" fill="url(#gr)"/>
<polygon points="537.92,493.65 558.02,484.57 558.71,394.72 538.57,400.63" fill="url(#gsb)" stroke="url(#gsb)" stroke-width="0.7" stroke-linejoin="round"/>
<polygon points="534.92,400.33 538.57,400.63 558.71,394.72 555.15,394.44" fill="#7099d0" stroke="#7099d0" stroke-width="0.5" stroke-linejoin="round"/>
<polygon points="534.28,493.19 537.92,493.65 538.57,400.63 534.92,400.33" fill="url(#gb)"/>
<polygon points="548.13,494.95 567.97,485.77 569.59,286.72 549.65,288.80" fill="url(#gsr)" stroke="url(#gsr)" stroke-width="0.7" stroke-linejoin="round"/>
<polygon points="545.94,288.69 549.65,288.80 569.59,286.72 565.97,286.62" fill="#8a3834" stroke="#8a3834" stroke-width="0.5" stroke-linejoin="round"/>
<polygon points="544.45,494.48 548.13,494.95 549.65,288.80 545.94,288.69" fill="url(#gr)"/>
<polygon points="551.82,495.41 571.56,486.21 572.34,393.07 552.55,398.97" fill="url(#gsb)" stroke="url(#gsb)" stroke-width="0.7" stroke-linejoin="round"/>
<polygon points="548.84,398.67 552.55,398.97 572.34,393.07 568.72,392.79" fill="#7099d0" stroke="#7099d0" stroke-width="0.5" stroke-linejoin="round"/>
<polygon points="548.13,494.95 551.82,495.41 552.55,398.97 548.84,398.67" fill="url(#gb)"/>
<polygon points="562.16,496.72 581.64,487.43 583.55,267.35 563.97,268.75" fill="url(#gsr)" stroke="url(#gsr)" stroke-width="0.7" stroke-linejoin="round"/>
<polygon points="560.21,268.68 563.97,268.75 583.55,267.35 579.89,267.29" fill="#8a3834" stroke="#8a3834" stroke-width="0.5" stroke-linejoin="round"/>
<polygon points="558.44,496.25 562.16,496.72 563.97,268.75 560.21,268.68" fill="url(#gr)"/>
<polygon points="565.90,497.20 585.28,487.87 586.07,399.33 566.65,405.49" fill="url(#gsb)" stroke="url(#gsb)" stroke-width="0.7" stroke-linejoin="round"/>
<polygon points="562.89,405.18 566.65,405.49 586.07,399.33 582.41,399.04" fill="#7099d0" stroke="#7099d0" stroke-width="0.5" stroke-linejoin="round"/>
<polygon points="562.16,496.72 565.90,497.20 566.65,405.49 562.89,405.18" fill="url(#gb)"/>
<polygon points="576.39,498.52 595.49,489.11 598.22,193.99 578.98,192.71" fill="url(#gsr)" stroke="url(#gsr)" stroke-width="0.7" stroke-linejoin="round"/>
<polygon points="572.61,498.04 576.39,498.52 578.98,192.71 575.15,192.78" fill="url(#gr)"/>
<polygon points="580.18,499.00 599.18,489.55 599.87,416.59 580.83,423.42" fill="url(#gsb)" stroke="url(#gsb)" stroke-width="0.7" stroke-linejoin="round"/>
<polygon points="577.03,423.07 580.83,423.42 599.87,416.59 596.17,416.27" fill="#7099d0" stroke="#7099d0" stroke-width="0.5" stroke-linejoin="round"/>
<polygon points="576.39,498.52 580.18,499.00 580.83,423.42 577.03,423.07" fill="url(#gb)"/>
<polygon points="590.80,500.35 609.53,490.81 609.54,489.73 590.81,499.23" fill="url(#gsr)" stroke="url(#gsr)" stroke-width="0.7" stroke-linejoin="round"/>
<polygon points="586.98,498.75 590.81,499.23 609.54,489.73 605.81,489.28" fill="#8a3834" stroke="#8a3834" stroke-width="0.5" stroke-linejoin="round"/>
<polygon points="586.97,499.86 590.80,500.35 590.81,499.23 586.98,498.75" fill="url(#gr)"/>
<polygon points="594.64,500.83 613.27,491.26 613.95,421.88 595.30,428.95" fill="url(#gsb)" stroke="url(#gsb)" stroke-width="0.7" stroke-linejoin="round"/>
<polygon points="591.45,428.59 595.30,428.95 613.95,421.88 610.20,421.55" fill="#7099d0" stroke="#7099d0" stroke-width="0.5" stroke-linejoin="round"/>
<polygon points="590.80,500.35 594.64,500.83 595.30,428.95 591.45,428.59" fill="url(#gb)"/>
<polygon points="620.22,504.07 638.15,494.27 640.82,248.52 622.82,249.26" fill="url(#gsr)" stroke="url(#gsr)" stroke-width="0.7" stroke-linejoin="round"/>
<polygon points="618.84,249.22 622.82,249.26 640.82,248.52 636.96,248.49" fill="#8a3834" stroke="#8a3834" stroke-width="0.5" stroke-linejoin="round"/>
<polygon points="616.29,503.57 620.22,504.07 622.82,249.26 618.84,249.22" fill="url(#gr)"/>
<polygon points="624.17,504.57 641.99,494.74 643.37,369.65 625.51,374.88" fill="url(#gsb)" stroke="url(#gsb)" stroke-width="0.7" stroke-linejoin="round"/>
<polygon points="621.54,374.62 625.51,374.88 643.37,369.65 639.51,369.40" fill="#7099d0" stroke="#7099d0" stroke-width="0.5" stroke-linejoin="round"/>
<polygon points="620.22,504.07 624.17,504.57 625.51,374.88 621.54,374.62" fill="url(#gb)"/>
<polygon points="635.24,505.97 652.75,496.04 655.51,255.19 637.93,256.18" fill="url(#gsr)" stroke="url(#gsr)" stroke-width="0.7" stroke-linejoin="round"/>
<polygon points="633.90,256.13 637.93,256.18 655.51,255.19 651.59,255.14" fill="#8a3834" stroke="#8a3834" stroke-width="0.5" stroke-linejoin="round"/>
<polygon points="631.25,505.47 635.24,505.97 637.93,256.18 633.90,256.13" fill="url(#gr)"/>
<polygon points="639.24,506.48 656.64,496.51 658.27,356.05 640.84,360.82" fill="url(#gsb)" stroke="url(#gsb)" stroke-width="0.7" stroke-linejoin="round"/>
<polygon points="636.81,360.58 640.84,360.82 658.27,356.05 654.35,355.83" fill="#7099d0" stroke="#7099d0" stroke-width="0.5" stroke-linejoin="round"/>
<polygon points="635.24,505.97 639.24,506.48 640.84,360.82 636.81,360.58" fill="url(#gb)"/>
<polygon points="650.47,507.90 667.54,497.83 671.34,182.46 654.19,180.70" fill="url(#gsr)" stroke="url(#gsr)" stroke-width="0.7" stroke-linejoin="round"/>
<polygon points="646.42,507.39 650.47,507.90 654.19,180.70 650.09,180.79" fill="url(#gr)"/>
<polygon points="654.52,508.41 671.48,498.31 673.20,357.47 656.21,362.32" fill="url(#gsb)" stroke="url(#gsb)" stroke-width="0.7" stroke-linejoin="round"/>
<polygon points="652.12,362.08 656.21,362.32 673.20,357.47 669.23,357.24" fill="#7099d0" stroke="#7099d0" stroke-width="0.5" stroke-linejoin="round"/>
<polygon points="650.47,507.90 654.52,508.41 656.21,362.32 652.12,362.08" fill="url(#gb)"/>
<polygon points="665.90,509.85 682.53,499.64 687.24,126.98 670.54,123.08" fill="url(#gsr)" stroke="url(#gsr)" stroke-width="0.7" stroke-linejoin="round"/>
<polygon points="661.80,509.33 665.90,509.85 670.54,123.08 666.37,123.28" fill="url(#gr)"/>
<polygon points="670.02,510.37 686.53,500.13 688.06,380.27 671.53,386.02" fill="url(#gsb)" stroke="url(#gsb)" stroke-width="0.7" stroke-linejoin="round"/>
<polygon points="667.39,385.72 671.53,386.02 688.06,380.27 684.04,380.00" fill="#7099d0" stroke="#7099d0" stroke-width="0.5" stroke-linejoin="round"/>
<polygon points="665.90,509.85 670.02,510.37 671.53,386.02 667.39,385.72" fill="url(#gb)"/>
<polygon points="685.73,512.36 701.78,501.98 701.98,487.18 685.93,497.01" fill="url(#gsb)" stroke="url(#gsb)" stroke-width="0.7" stroke-linejoin="round"/>
<polygon points="681.75,496.51 685.93,497.01 701.98,487.18 697.92,486.71" fill="#7099d0" stroke="#7099d0" stroke-width="0.5" stroke-linejoin="round"/>
<polygon points="681.56,511.84 685.73,512.36 685.93,497.01 681.75,496.51" fill="url(#gb)"/>
<polygon points="697.44,513.85 713.13,503.35 716.84,235.18 701.12,235.43" fill="url(#gsr)" stroke="url(#gsr)" stroke-width="0.7" stroke-linejoin="round"/>
<polygon points="696.85,235.42 701.12,235.43 716.84,235.18 712.70,235.17" fill="#8a3834" stroke="#8a3834" stroke-width="0.5" stroke-linejoin="round"/>
<polygon points="693.22,513.31 697.44,513.85 701.12,235.43 696.85,235.42" fill="url(#gr)"/>
<polygon points="713.54,515.88 728.75,505.24 734.32,119.35 719.09,115.07" fill="url(#gsr)" stroke="url(#gsr)" stroke-width="0.7" stroke-linejoin="round"/>
<polygon points="709.27,515.34 713.54,515.88 719.09,115.07 714.74,115.28" fill="url(#gr)"/>
<polygon points="717.84,516.43 732.91,505.74 733.02,498.36 717.95,508.76" fill="url(#gsb)" stroke="url(#gsb)" stroke-width="0.7" stroke-linejoin="round"/>
<polygon points="713.65,508.23 717.95,508.76 733.02,498.36 728.85,497.87" fill="#7099d0" stroke="#7099d0" stroke-width="0.5" stroke-linejoin="round"/>
<polygon points="713.54,515.88 717.84,516.43 717.95,508.76 713.65,508.23" fill="url(#gb)"/>
<polygon points="729.88,517.95 744.58,507.16 750.29,128.05 735.59,124.07" fill="url(#gsr)" stroke="url(#gsr)" stroke-width="0.7" stroke-linejoin="round"/>
<polygon points="725.54,517.40 729.88,517.95 735.59,124.07 731.17,124.28" fill="url(#gr)"/>
<polygon points="734.24,518.50 748.80,507.67 748.92,500.23 734.35,510.78" fill="url(#gsb)" stroke="url(#gsb)" stroke-width="0.7" stroke-linejoin="round"/>
<polygon points="729.99,510.25 734.35,510.78 748.92,500.23 744.69,499.74" fill="#7099d0" stroke="#7099d0" stroke-width="0.5" stroke-linejoin="round"/>
<polygon points="729.88,517.95 734.24,518.50 734.35,510.78 729.99,510.25" fill="url(#gb)"/>
<g font-size="18">
<text x="24.1" y="445.2" text-anchor="middle">1953</text>
<text x="72.7" y="451.3" text-anchor="middle">1965</text>
<text x="124.4" y="457.9" text-anchor="middle">1973</text>
<text x="179.5" y="464.9" text-anchor="middle">1979</text>
<text x="238.4" y="472.3" text-anchor="middle">1985</text>
<text x="301.4" y="480.3" text-anchor="middle">1991</text>
<text x="368.9" y="488.8" text-anchor="middle">1997</text>
<text x="441.6" y="498.0" text-anchor="middle">2003</text>
<text x="520.0" y="508.0" text-anchor="middle">2009</text>
<text x="604.8" y="518.7" text-anchor="middle">2015</text>
<text x="696.8" y="530.3" text-anchor="middle">2021</text>
<text x="729.3" y="534.5" text-anchor="middle">2023</text>
</g>
<g font-size="18.3">
<text x="784.7" y="112.1">700</text>
<text x="783.3" y="211.2">525</text>
<text x="781.5" y="309.2">350</text>
<text x="781.0" y="407.2">175</text>
<text x="777.9" y="503.4">0</text>
</g>
<text x="17.3" y="528.8" font-size="13" font-weight="bold">source: Himalayan Database</text>
</svg>
</body></html>
